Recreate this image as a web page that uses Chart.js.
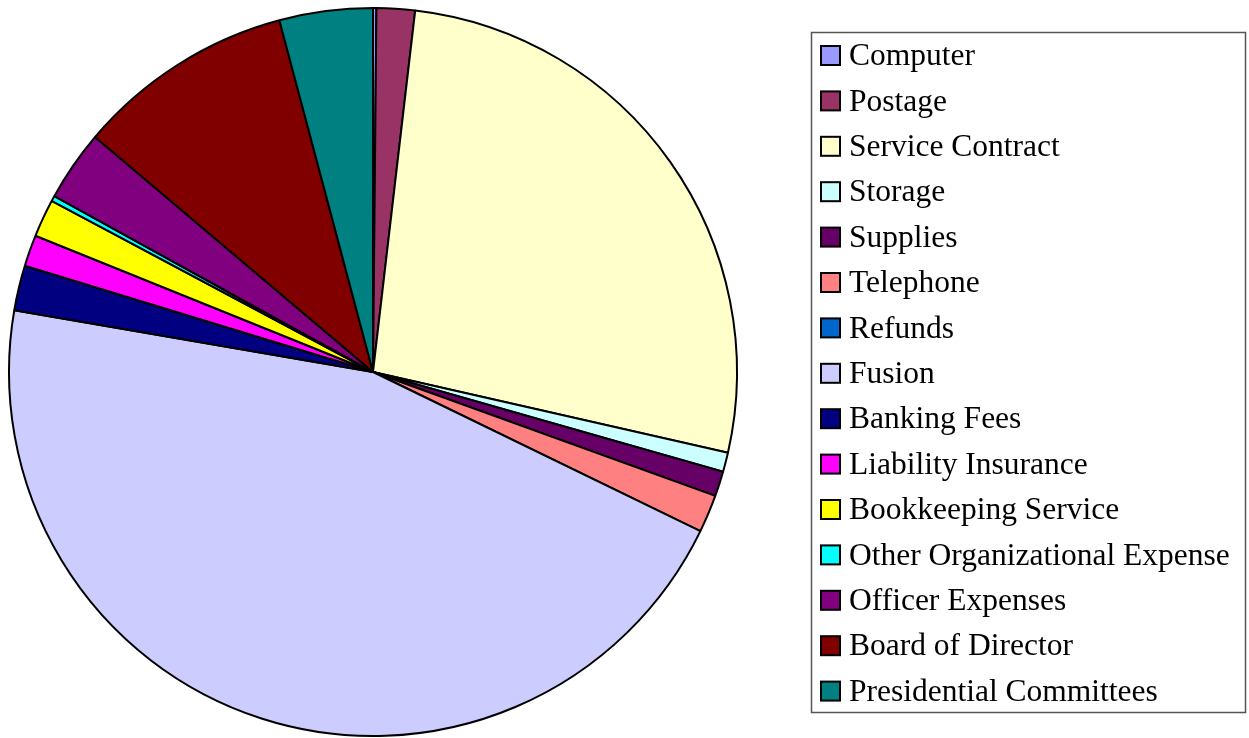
<!DOCTYPE html>
<html>
<head>
<meta charset="utf-8">
<script src="https://cdn.jsdelivr.net/npm/chart.js"></script>
<style>
  html, body { margin: 0; padding: 0; background: #fff; }
  #wrap { width: 1249px; height: 738px; position: relative; }
</style>
</head>
<body>
<div id="wrap"><canvas id="piecanvas" width="1249" height="738"></canvas></div>
<script>
// expense categories and their share (percent of total)
var categories = ["Computer", "Postage", "Service Contract", "Storage", "Supplies",
	"Telephone", "Refunds", "Fusion", "Banking Fees", "Liability Insurance",
	"Bookkeeping Service", "Other Organizational Expense", "Officer Expenses",
	"Board of Director", "Presidential Committees"];
var shares = [0.15, 1.7, 26.7, 0.86, 1.11, 1.67, 0, 45.5, 2.0, 1.39, 1.68, 0.24, 3.14, 9.69, 4.14];
var colors = ["#9999FF", "#993366", "#FFFFCC", "#CCFFFF", "#660066",
	"#FF8080", "#0066CC", "#CCCCFF", "#000080", "#FF00FF",
	"#FFFF00", "#00FFFF", "#800080", "#800000", "#008080"];

// boxed legend on the right, drawn by hand
var boxLegend = {
	id: "boxLegend",
	afterDraw: function(chart) {
		var ctx = chart.ctx;
		ctx.save();
		ctx.strokeStyle = "#555";
		ctx.lineWidth = 1.5;
		ctx.strokeRect(811.5, 32.5, 434, 680);
		ctx.font = "31.5px 'Liberation Serif', 'Times New Roman', serif";
		ctx.textBaseline = "middle";
		for (var i = 0; i < categories.length; i++) {
			var y = 56 + i * 45.4;
			ctx.fillStyle = colors[i];
			ctx.fillRect(821, y - 10, 19, 19);
			ctx.strokeStyle = "#000";
			ctx.lineWidth = 2;
			ctx.strokeRect(821, y - 10, 19, 19);
			ctx.fillStyle = "#000";
			ctx.fillText(categories[i], 849, y + 1);
		}
		ctx.restore();
	}
};

var ctx = document.getElementById("piecanvas");
var PieChart = new Chart(ctx, {
	type: "pie",
	data: {
		labels: categories,
		datasets: [{
			data: shares,
			backgroundColor: colors,
			borderColor: "#000",
			borderWidth: 2
		}]
	},
	options: {
		responsive: false,
		animation: false,
		layout: { padding: { left: 8, top: 7, right: 511, bottom: 1 } },
		plugins: {
			legend: { display: false },
			tooltip: { enabled: false }
		}
	},
	plugins: [boxLegend]
});
</script>
</body>
</html>
